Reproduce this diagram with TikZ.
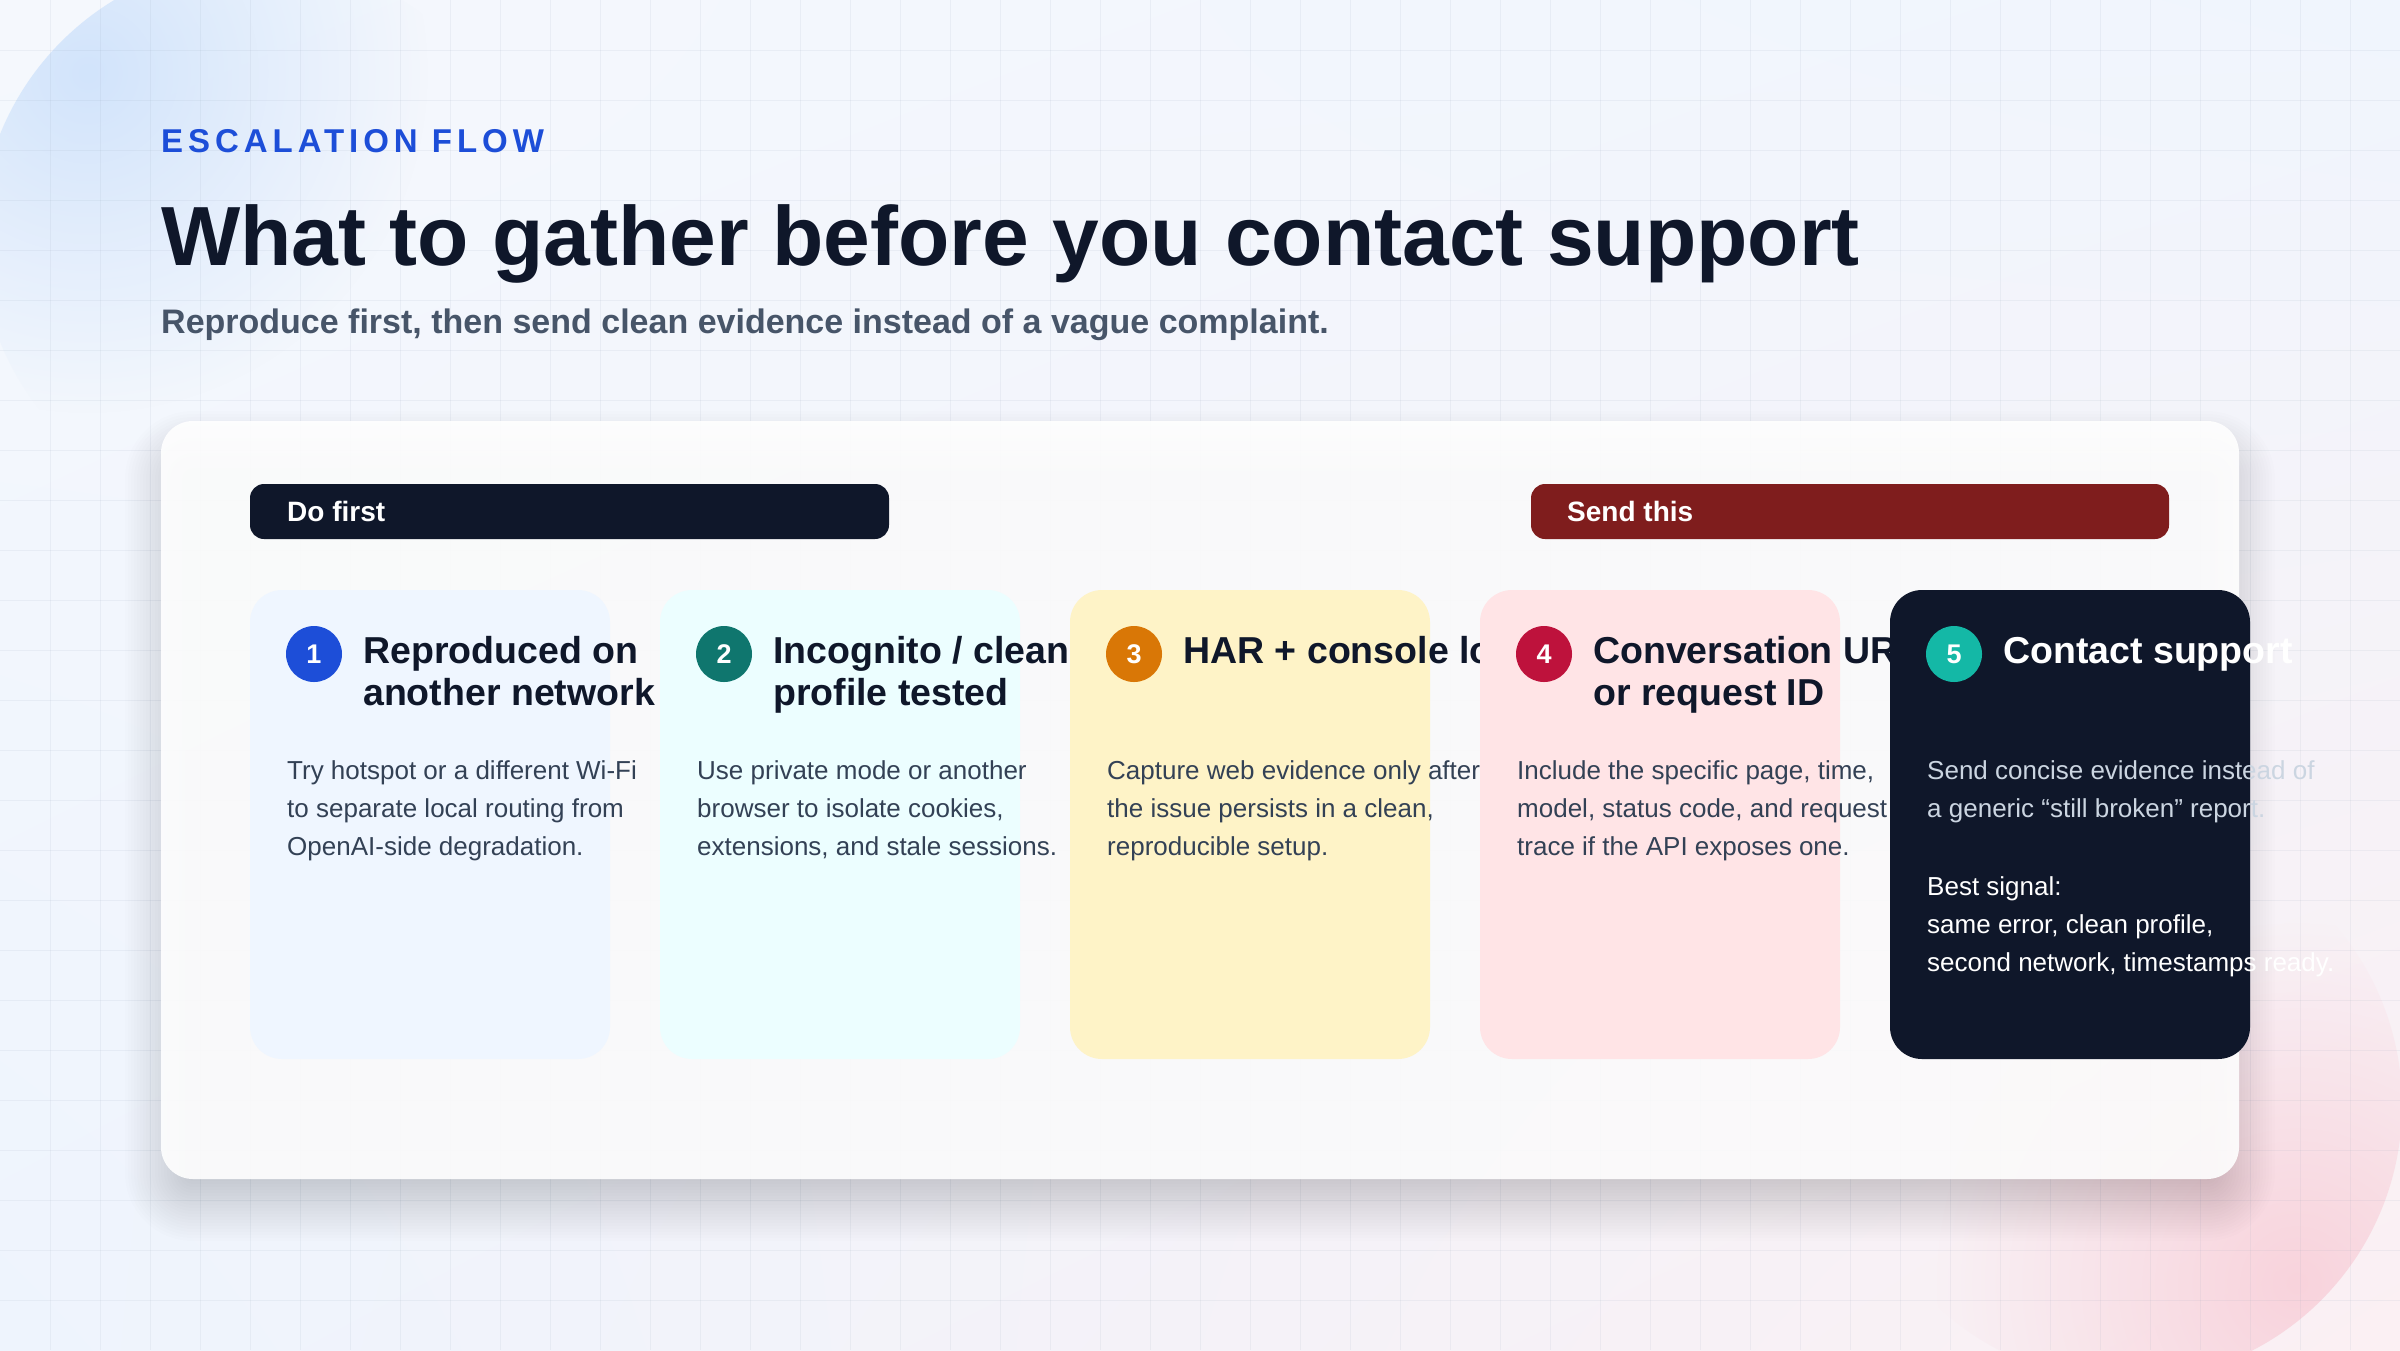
\documentclass[tikz,border=0pt]{standalone}
\usepackage{fontspec}
\setmainfont{Liberation Sans}
\usetikzlibrary{fadings,shadings}
\definecolor{ink}{HTML}{0F172A}
\definecolor{bodyc}{HTML}{334155}
\definecolor{subtle}{HTML}{475569}
\definecolor{eyebrowc}{HTML}{1D4ED8}
\definecolor{bgUL}{HTML}{F5F8FD}
\definecolor{bgUR}{HTML}{F0F5FD}
\definecolor{bgLL}{HTML}{EEF4FD}
\definecolor{bgLR}{HTML}{FBF0F3}
\definecolor{gridc}{HTML}{94A3B8}
\definecolor{glowblue}{HTML}{D2E4FB}
\definecolor{glowpink}{HTML}{F8CED8}
\definecolor{shadowc}{HTML}{1E293B}
\definecolor{sendred}{HTML}{7F1D1D}
\definecolor{cardA}{HTML}{EFF6FF}
\definecolor{cardB}{HTML}{ECFEFF}
\definecolor{cardC}{HTML}{FEF3C7}
\definecolor{cardD}{HTML}{FFE4E6}
\definecolor{cardE}{HTML}{0F172A}
\definecolor{badgeA}{HTML}{1D4ED8}
\definecolor{badgeB}{HTML}{0F766E}
\definecolor{badgeC}{HTML}{D97706}
\definecolor{badgeD}{HTML}{BE123C}
\definecolor{badgeE}{HTML}{14B8A6}
\definecolor{softtext}{HTML}{CBD5E1}
\tikzfading[name=glowfade, inner color=transparent!0, outer color=transparent!100]
\tikzset{
  gridline/.style={draw=gridc, opacity=0.11, line width=1pt},
  cardshape/.style={rounded corners=32pt},
  barshape/.style={rounded corners=14pt},
  badge/.style={circle, minimum size=56pt, inner sep=0pt, text=white,
    font=\fontsize{27}{30}\selectfont\bfseries},
  ttl/.style={anchor=base west, inner sep=0pt, text=ink,
    font=\fontsize{37.5}{42}\selectfont\bfseries},
  bodytxt/.style={anchor=base west, inner sep=0pt, text=bodyc,
    font=\fontsize{26}{38}\selectfont},
  bartxt/.style={anchor=base west, inner sep=0pt, text=white,
    font=\fontsize{28}{32}\selectfont\bfseries},
}
\begin{document}
\begin{tikzpicture}[x=1pt,y=-1pt]
\useasboundingbox (0,0) rectangle (2400,1350);
% background
\shade[upper left=bgUL, upper right=bgUR, lower left=bgLL, lower right=bgLR] (0,0) rectangle (2400,1350);
% blobs
\begin{scope}
  \clip (258,238) circle (278);
  \fill[glowblue, path fading=glowfade] (88,73) circle (340);
\end{scope}
\begin{scope}
  \clip (2126,1105) circle (276);
  \fill[glowpink, path fading=glowfade, opacity=0.85] (2297,1283) circle (360);
\end{scope}
% grid
\foreach \gx in {50,100,...,2350} \draw[gridline] (\gx,0) -- (\gx,1350);
\foreach \gy in {50,100,...,1300} \draw[gridline] (0,\gy) -- (2400,\gy);
% shadow of main card
\foreach \d in {-24,-21,...,36}{
  \pgfmathsetmacro\rr{max(4,32+\d)}
  \fill[shadowc, opacity=0.006, rounded corners=\rr pt] (161-\d,447-\d) rectangle (2239+\d,1205+\d);
}
% main card
\fill[white, opacity=0.9, cardshape] (161,421) rectangle (2239,1179);
% header
\node[anchor=base west, inner sep=0pt, text=eyebrowc,
  font=\fontsize{33}{40}\selectfont\bfseries\addfontfeature{LetterSpace=15}] (eyebrow) at (161,152) {ESCALATION FLOW};
\node[anchor=base west, inner sep=0pt, text=ink, font=\fontsize{84}{96}\selectfont\bfseries] (title) at (161,265) {What to gather before you contact support};
\node[anchor=base west, inner sep=0pt, text=subtle, font=\fontsize{34}{40}\selectfont\bfseries] (subtitle) at (161,333) {Reproduce first, then send clean evidence instead of a vague complaint.};
% bars
\fill[ink, barshape] (250,484) rectangle (889,539);
\node[bartxt] (dofirst) at (287,521) {Do first};
\fill[sendred, barshape] (1531,484) rectangle (2169,539);
\node[bartxt] (sendthis) at (1567,521) {Send this};
% card 1
\fill[cardA, cardshape] (250,590) rectangle (610,1059);
\node[badge, fill=badgeA] (n1) at (314,654) {1};
\node[ttl] (t1a) at (363,663) {Reproduced on};
\node[ttl] (t1b) at (363,705.5) {another network};
\node[bodytxt] (p1a) at (287,779.5) {Try hotspot or a different Wi-Fi};
\node[bodytxt] (p1b) at (287,817.5) {to separate local routing from};
\node[bodytxt] (p1c) at (287,855.5) {OpenAI-side degradation.};
% card 2
\fill[cardB, cardshape] (660,590) rectangle (1020,1059);
\node[badge, fill=badgeB] (n2) at (724,654) {2};
\node[ttl] (t2a) at (773,663) {Incognito / clean};
\node[ttl] (t2b) at (773,705.5) {profile tested};
\node[bodytxt] (p2a) at (697,779.5) {Use private mode or another};
\node[bodytxt] (p2b) at (697,817.5) {browser to isolate cookies,};
\node[bodytxt] (p2c) at (697,855.5) {extensions, and stale sessions.};
% card 3
\fill[cardC, cardshape] (1070,590) rectangle (1430,1059);
\node[badge, fill=badgeC] (n3) at (1134,654) {3};
\node[ttl] (t3a) at (1183,663) {HAR + console logs};
\node[bodytxt] (p3a) at (1107,779.5) {Capture web evidence only after};
\node[bodytxt] (p3b) at (1107,817.5) {the issue persists in a clean,};
\node[bodytxt] (p3c) at (1107,855.5) {reproducible setup.};
% card 4
\fill[cardD, cardshape] (1480,590) rectangle (1840,1059);
\node[badge, fill=badgeD] (n4) at (1544,654) {4};
\node[ttl] (t4a) at (1593,663) {Conversation URL};
\node[ttl] (t4b) at (1593,705.5) {or request ID};
\node[bodytxt] (p4a) at (1517,779.5) {Include the specific page, time,};
\node[bodytxt] (p4b) at (1517,817.5) {model, status code, and request};
\node[bodytxt] (p4c) at (1517,855.5) {trace if the API exposes one.};
% card 5
\fill[cardE, cardshape] (1890,590) rectangle (2250,1059);
\node[badge, fill=badgeE] (n5) at (1954,654) {5};
\node[ttl, text=white] (t5a) at (2003,663) {Contact support};
\node[bodytxt, text=softtext] (p5a) at (1927,779.5) {Send concise evidence instead of};
\node[bodytxt, text=softtext] (p5b) at (1927,817.5) {a generic “still broken” report.};
\node[bodytxt, text=white] (p5c) at (1927,895.5) {Best signal:};
\node[bodytxt, text=white] (p5d) at (1927,933.5) {same error, clean profile,};
\node[bodytxt, text=white] (p5e) at (1927,971.5) {second network, timestamps ready.};
\end{tikzpicture}
\end{document}
